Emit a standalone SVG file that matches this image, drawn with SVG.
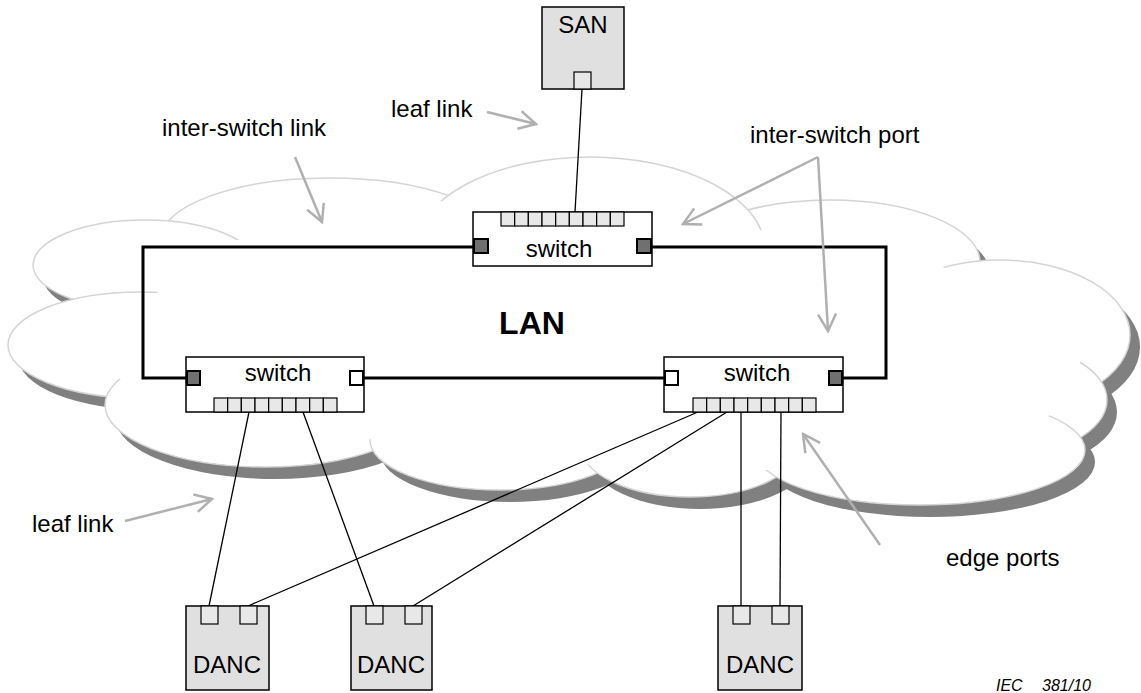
<svg xmlns="http://www.w3.org/2000/svg" width="1141" height="693" viewBox="0 0 1141 693">
  <style>
    text { font-family: "Liberation Sans", Arial, sans-serif; font-size: 24px; fill: #000; }
    .mid { text-anchor: middle; }
    .lan { font-weight: bold; font-size: 32px; }
    .iec { font-style: italic; font-size: 16px; }
    .lobe { fill: #fff; stroke: #d4d4d4; stroke-width: 1.5; }
    .box { fill: #fff; stroke: #000; stroke-width: 1.5; }
    .dev { fill: #e0e0e0; stroke: #000; stroke-width: 1.5; }
    .cell { fill: #e8e8e8; stroke: #000; stroke-width: 1.2; }
    .isp { fill: #707070; stroke: #000; stroke-width: 2; }
    .isp-open { fill: #fff; stroke: #000; stroke-width: 2; }
    .trunk { fill: none; stroke: #000; stroke-width: 3; }
    .leaf { fill: none; stroke: #000; stroke-width: 1.3; }
    .pointer { fill: none; stroke: #b0b0b0; stroke-width: 2.5; marker-end: url(#chevron); }
  </style>
  <defs>
    <marker id="chevron" viewBox="0 0 22 22" refX="20" refY="11" markerWidth="22" markerHeight="22" markerUnits="userSpaceOnUse" orient="auto">
      <path d="M3,2 L20,11 L3,20" fill="none" stroke="#b0b0b0" stroke-width="2.5"/>
    </marker>
    <g id="cloud-lobes">
      <ellipse cx="330" cy="240" rx="170" ry="62"/>
      <ellipse cx="830" cy="262" rx="150" ry="62"/>
      <ellipse cx="590" cy="250" rx="175" ry="93"/>
      <ellipse cx="145" cy="265" rx="112" ry="45"/>
      <ellipse cx="140" cy="345" rx="132" ry="53"/>
      <ellipse cx="265" cy="405" rx="160" ry="62"/>
      <ellipse cx="500" cy="440" rx="130" ry="50"/>
      <ellipse cx="690" cy="445" rx="110" ry="52"/>
      <ellipse cx="1000" cy="335" rx="130" ry="75"/>
      <ellipse cx="995" cy="400" rx="112" ry="58"/>
      <ellipse cx="920" cy="450" rx="165" ry="55"/>
    </g>
    <!-- 9-port edge bar, 123 x 14 -->
    <g id="portbar">
      <rect class="cell" x="0" y="0" width="13.67" height="14"/>
      <rect class="cell" x="13.67" y="0" width="13.67" height="14"/>
      <rect class="cell" x="27.33" y="0" width="13.67" height="14"/>
      <rect class="cell" x="41" y="0" width="13.67" height="14"/>
      <rect class="cell" x="54.67" y="0" width="13.67" height="14"/>
      <rect class="cell" x="68.33" y="0" width="13.67" height="14"/>
      <rect class="cell" x="82" y="0" width="13.67" height="14"/>
      <rect class="cell" x="95.67" y="0" width="13.67" height="14"/>
      <rect class="cell" x="109.33" y="0" width="13.67" height="14"/>
    </g>
  </defs>

  <!-- LAN cloud: shadow, lobes, inner cover -->
  <g id="cloud">
    <use href="#cloud-lobes" fill="#808080" transform="translate(10,12)"/>
    <g class="lobe">
      <ellipse cx="330" cy="240" rx="170" ry="62"/>
      <ellipse cx="830" cy="262" rx="150" ry="62"/>
      <ellipse cx="590" cy="250" rx="175" ry="93"/>
      <ellipse cx="145" cy="265" rx="112" ry="45"/>
      <ellipse cx="140" cy="345" rx="132" ry="53"/>
      <ellipse cx="265" cy="405" rx="160" ry="62"/>
      <ellipse cx="500" cy="440" rx="130" ry="50"/>
      <ellipse cx="690" cy="445" rx="110" ry="52"/>
      <ellipse cx="1000" cy="335" rx="130" ry="75"/>
      <ellipse cx="995" cy="400" rx="112" ry="58"/>
      <ellipse cx="920" cy="450" rx="165" ry="55"/>
    </g>
    <polygon fill="#fff" points="150,300 200,250 330,215 450,200 600,195 760,230 900,250 1000,290 1080,340 1080,400 1000,440 900,470 780,470 700,470 600,465 500,460 380,440 250,430 130,390 90,345"/>
    <text class="lan mid" x="532" y="334">LAN</text>
  </g>

  <!-- links -->
  <g id="connectors">
    <polyline class="trunk" points="473,247 143,247 143,378 186,378"/>
    <polyline class="trunk" points="652,247 886,247 886,378 843,378"/>
    <line class="trunk" x1="364" y1="378" x2="664" y2="378"/>
    <line class="leaf" x1="582" y1="89" x2="575" y2="212"/>
    <line class="leaf" x1="249" y1="412" x2="209" y2="606"/>
    <line class="leaf" x1="303" y1="412" x2="374" y2="606"/>
    <line class="leaf" x1="698" y1="412" x2="248" y2="606"/>
    <line class="leaf" x1="727" y1="412" x2="413" y2="606"/>
    <line class="leaf" x1="741" y1="412" x2="741" y2="606"/>
    <line class="leaf" x1="781" y1="412" x2="780" y2="606"/>
  </g>

  <!-- SAN -->
  <g id="san">
    <rect class="dev" x="542" y="7" width="82" height="82"/>
    <rect class="cell" x="574" y="72" width="17" height="17"/>
    <text class="mid" x="583" y="33">SAN</text>
  </g>

  <!-- switches -->
  <g id="switch-top">
    <rect class="box" x="473" y="212" width="179" height="54"/>
    <use href="#portbar" x="501" y="212"/>
    <rect class="isp" x="474" y="239" width="14" height="14"/>
    <rect class="isp" x="637" y="239" width="14" height="14"/>
    <text class="mid" x="559" y="257">switch</text>
  </g>
  <g id="switch-left">
    <rect class="box" x="186" y="357" width="178" height="55"/>
    <use href="#portbar" x="214" y="398"/>
    <rect class="isp" x="187" y="371" width="13" height="14"/>
    <rect class="isp-open" x="350" y="371" width="13" height="14"/>
    <text class="mid" x="278" y="381">switch</text>
  </g>
  <g id="switch-right">
    <rect class="box" x="664" y="357" width="179" height="55"/>
    <use href="#portbar" x="693" y="398"/>
    <rect class="isp-open" x="665" y="371" width="13" height="14"/>
    <rect class="isp" x="829" y="371" width="13" height="14"/>
    <text class="mid" x="757" y="381">switch</text>
  </g>

  <!-- end nodes -->
  <g id="danc-1">
    <rect class="dev" x="186" y="606" width="83" height="84"/>
    <rect class="cell" x="201" y="606" width="17" height="18"/>
    <rect class="cell" x="240" y="606" width="17" height="18"/>
    <text class="mid" x="227" y="673">DANC</text>
  </g>
  <g id="danc-2">
    <rect class="dev" x="351" y="606" width="81" height="84"/>
    <rect class="cell" x="366" y="606" width="17" height="18"/>
    <rect class="cell" x="405" y="606" width="17" height="18"/>
    <text class="mid" x="391" y="673">DANC</text>
  </g>
  <g id="danc-3">
    <rect class="dev" x="718" y="606" width="84" height="84"/>
    <rect class="cell" x="733" y="606" width="17" height="18"/>
    <rect class="cell" x="772" y="606" width="17" height="18"/>
    <text class="mid" x="760" y="673">DANC</text>
  </g>

  <!-- callouts -->
  <g id="callouts">
    <text x="391" y="117">leaf link</text>
    <line class="pointer" x1="487" y1="112" x2="536" y2="124"/>
    <text x="162" y="136">inter-switch link</text>
    <line class="pointer" x1="295" y1="157" x2="322" y2="222"/>
    <text x="750" y="143">inter-switch port</text>
    <line class="pointer" x1="818" y1="157" x2="683" y2="224"/>
    <line class="pointer" x1="818" y1="157" x2="828" y2="331"/>
    <text x="32" y="532">leaf link</text>
    <line class="pointer" x1="125" y1="521" x2="212" y2="499"/>
    <text x="946" y="566">edge ports</text>
    <line class="pointer" x1="880" y1="545" x2="803" y2="434"/>
  </g>

  <g id="figure-id">
    <text class="iec" x="996" y="691">IEC</text>
    <text class="iec" x="1042" y="691">381/10</text>
  </g>
</svg>
